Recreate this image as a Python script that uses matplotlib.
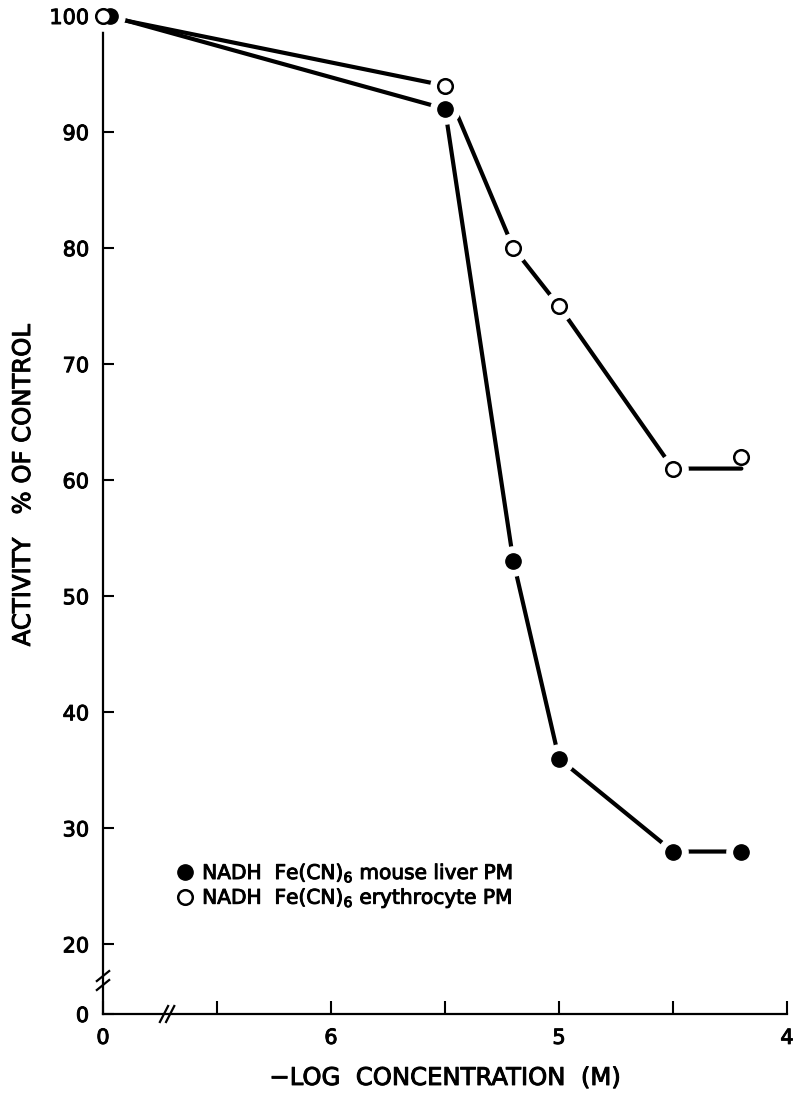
import matplotlib
matplotlib.use("Agg")
import matplotlib.pyplot as plt
import matplotlib.patheffects as pe
from matplotlib.lines import Line2D

plt.rcParams['font.family'] = ['DejaVu Sans']

# ---- data ----
x_control_liver = 6.97      # control point (drawn at "0" on the broken axis)
x_control_ery = 7.0
neg_log_conc = [5.5, 5.2, 5.0, 4.5, 4.2]
liver_pm = [100, 92, 53, 36, 28, 28]
erythrocyte_pm = [100, 94, 80, 75, 61, 62]
erythrocyte_line = [100, 94, 80, 75, 61, 61]   # line drawn by the authors

y_ticks = [20, 30, 40, 50, 60, 70, 80, 90, 100]
x_tick_pos = [7.0, 6.5, 6.0, 5.5, 5.0, 4.5, 4.0]
x_tick_labels = ["0", "", "6", "", "5", "", "4"]
y_zero_pos = 14.0   # position of the "0" below the axis break

legend_labels = ["NADH  Fe(CN)$_6$ mouse liver PM",
                 "NADH  Fe(CN)$_6$ erythrocyte PM"]

x_liver = [x_control_liver] + neg_log_conc
x_ery = [x_control_ery] + neg_log_conc

heavy = [pe.withStroke(linewidth=0.7, foreground='black')]

fig = plt.figure(figsize=(7.96, 11.02), dpi=100)
ax = fig.add_axes([103/796, 1-1014/1102, (787-103)/796, (1014-16)/1102])

ax.set_xlim(7.0, 4.0)
ax.set_ylim(y_zero_pos, 100)

lw = 3.0
ax.plot(x_liver, liver_pm, color='black', lw=lw, zorder=2, solid_capstyle='round', clip_on=False)
ax.plot(x_ery, erythrocyte_line, color='black', lw=lw, zorder=2, solid_capstyle='round', clip_on=False)

# white halos to create small gaps between lines and markers
ax.plot(x_liver, liver_pm, ls='none', marker='o', ms=21, mfc='white', mec='white', zorder=3, clip_on=False)
ax.plot(x_ery[:-1], erythrocyte_pm[:-1], ls='none', marker='o', ms=21, mfc='white', mec='white', zorder=3, clip_on=False)

ax.plot(x_liver, liver_pm, ls='none', marker='o', ms=11, mfc='black', mec='black', zorder=4, clip_on=False)
ax.plot(x_ery, erythrocyte_pm, ls='none', marker='o', ms=10.5, mfc='white', mec='black', mew=1.8, zorder=5, clip_on=False)

for s in ['top', 'right']:
    ax.spines[s].set_visible(False)
for s in ['left', 'bottom']:
    ax.spines[s].set_linewidth(1.6)
    ax.spines[s].set_zorder(1)

ax.set_xticks(x_tick_pos)
ax.set_xticklabels(x_tick_labels)
ax.set_yticks([y_zero_pos] + y_ticks)
ax.set_yticklabels(["0"] + [str(v) for v in y_ticks])
ax.tick_params(axis='x', direction='in', length=9.5, width=1.5, pad=10, labelsize=15)
ax.tick_params(axis='y', direction='in', length=8, width=1.5, pad=10, labelsize=15)
for t in ax.get_xticklabels() + ax.get_yticklabels():
    t.set_path_effects(heavy)

# axis break marks
def brk(x0, y0, dx, dy, gap_dx, gap_dy):
    for k in (0, 1):
        ax.plot([x0 - dx + k*gap_dx, x0 + dx + k*gap_dx],
                [y0 - dy + k*gap_dy, y0 + dy + k*gap_dy],
                transform=ax.transAxes, color='black', lw=1.6, clip_on=False, zorder=6)

# x-axis break (near x = 164 px)
bx = (164-103)/684
brk(bx, 0.0, 0.006, 0.008, 0.009, 0.0)
# y-axis break (near y = 985 px)
by = (1014-985)/998
brk(0.0, by, 0.009, 0.005, 0.0, 0.009)

xl = ax.set_xlabel("\u2212LOG  CONCENTRATION  (M)", fontsize=17.5, labelpad=13)
xl.set_path_effects(heavy)
yl = fig.text(23/796, 1 - 485/1102, "ACTIVITY   % OF CONTROL", rotation=90,
              ha='center', va='center', fontsize=17.5)
yl.set_path_effects(heavy)

handles = [Line2D([], [], ls='none', marker='o', ms=11, mfc='black', mec='black'),
           Line2D([], [], ls='none', marker='o', ms=10.5, mfc='white', mec='black', mew=1.8)]
leg = ax.legend(handles, legend_labels, loc='upper left',
                bbox_to_anchor=((178-103)/684, 1 - (862-16)/998),
                frameon=False, fontsize=14.5, handlelength=0.7, handletextpad=0.5,
                labelspacing=0.12, borderpad=0, borderaxespad=0)
for t in leg.get_texts():
    t.set_path_effects(heavy)

fig.savefig("out.png", dpi=100)
